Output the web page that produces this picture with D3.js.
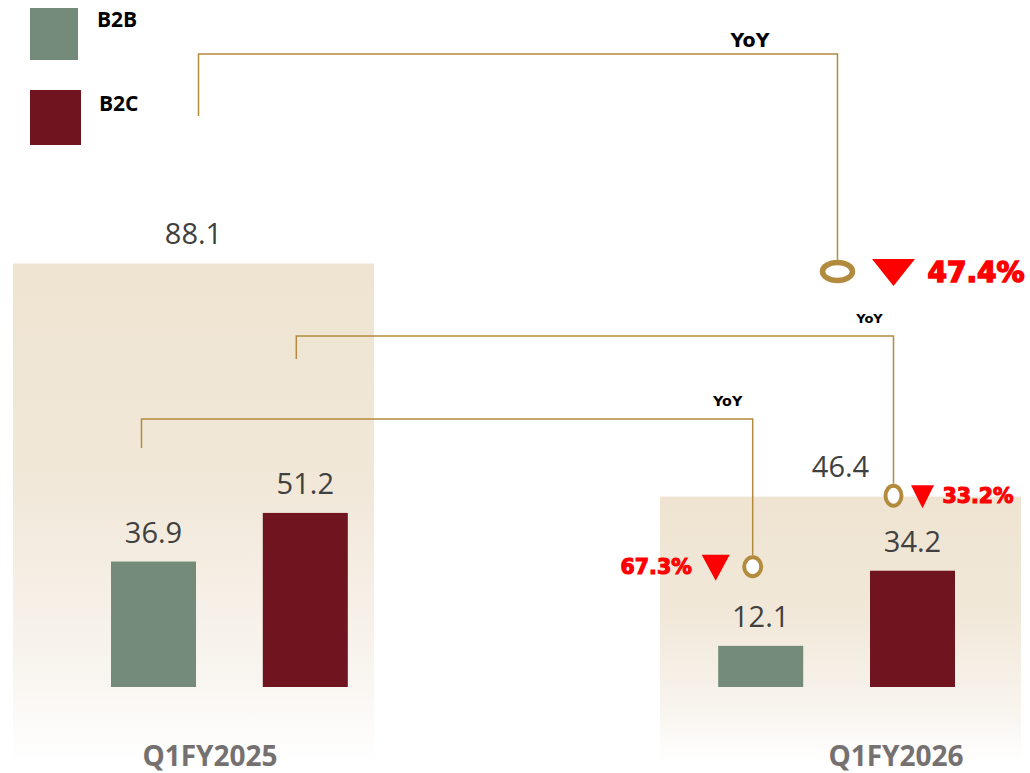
<!DOCTYPE html>
<html>
<head>
<meta charset="utf-8">
<title>B2B / B2C Q1FY2025 vs Q1FY2026</title>
<script src="https://cdn.jsdelivr.net/npm/d3@7"></script>
<style>
  body { margin: 0; background: #fff; }
  svg { display: block; }
</style>
</head>
<body>
<svg id="svg"></svg>
<script>
// data
var categories = ["Q1FY2025", "Q1FY2026"];
var series = ["B2B", "B2C"];
var b2bValues = [36.9, 12.1];
var b2cValues = [51.2, 34.2];
var totalValues = [88.1, 46.4];
var yoyLabels = ["47.4%", "33.2%", "67.3%"];   // total, B2C, B2B

var width = 1030, height = 773;
var colors = { B2B: "#748b79", B2C: "#701520" };
var gold = "#b38b3e", red = "#ff0000";

var svg = d3.select("#svg").attr("width", width).attr("height", height);

// gradient for the total panels
var grad = svg.append("defs").append("linearGradient")
    .attr("id", "panelGrad").attr("x1", 0).attr("y1", 0).attr("x2", 0).attr("y2", 1);
grad.append("stop").attr("offset", "0%").attr("stop-color", "#efe4d1");
grad.append("stop").attr("offset", "45%").attr("stop-color", "#f1e8d9");
grad.append("stop").attr("offset", "80%").attr("stop-color", "#f8f4ee");
grad.append("stop").attr("offset", "100%").attr("stop-color", "#ffffff");

// scales
var xPanel = d3.scaleBand().domain(categories).range([13, 1021]).paddingInner(0.442);
var yPanel = d3.scaleLinear().domain([0, 100]).range([756, 197]);
var xGroup = d3.scaleBand().domain(categories).range([111, 955]).paddingInner(0.61);
var xSeries = d3.scaleBand().domain(series).range([0, xGroup.bandwidth()]).paddingInner(0.44);
var yBar = d3.scaleLinear().domain([0, 100]).range([687, 347]);
var xLabel = d3.scalePoint().domain(categories).range([210, 896]);

var totals = categories.map(function(c, i) { return { cat: c, value: totalValues[i] }; });
var bars = [];
categories.forEach(function(c, i) {
    bars.push({ cat: c, key: "B2B", value: b2bValues[i] });
    bars.push({ cat: c, key: "B2C", value: b2cValues[i] });
});
function barX(d) { return xGroup(d.cat) + xSeries(d.key); }
function barCx(d) { return barX(d) + xSeries.bandwidth() / 2; }

// panels
svg.selectAll(".panel").data(totals).enter().append("rect")
    .attr("class", "panel")
    .attr("x", function(d) { return xPanel(d.cat); })
    .attr("y", function(d) { return yPanel(d.value); })
    .attr("width", xPanel.bandwidth())
    .attr("height", function(d) { return 762 - yPanel(d.value); })
    .attr("fill", "url(#panelGrad)");

svg.selectAll(".total").data(totals).enter().append("text")
    .attr("x", function(d) { return xPanel(d.cat) + xPanel.bandwidth() / 2; })
    .attr("y", function(d) { return yPanel(d.value) - 20; })
    .attr("text-anchor", "middle")
    .style("font-family", "'Open Sans', sans-serif")
    .style("font-size", "29px")
    .style("fill", "#404040")
    .text(function(d) { return d.value.toFixed(1); });

// bars
svg.selectAll(".bar").data(bars).enter().append("rect")
    .attr("x", barX)
    .attr("y", function(d) { return yBar(d.value); })
    .attr("width", xSeries.bandwidth())
    .attr("height", function(d) { return yBar(0) - yBar(d.value); })
    .attr("fill", function(d) { return colors[d.key]; });

svg.selectAll(".val").data(bars).enter().append("text")
    .attr("x", barCx)
    .attr("y", function(d) { return yBar(d.value) - 19; })
    .attr("text-anchor", "middle")
    .style("font-family", "'Open Sans', sans-serif")
    .style("font-size", "29px")
    .style("fill", "#404040")
    .text(function(d) { return d.value.toFixed(1); });

// category labels
svg.selectAll(".cat").data(categories).enter().append("text")
    .attr("x", function(d) { return xLabel(d); })
    .attr("y", 766)
    .attr("text-anchor", "middle")
    .style("font-family", "'Open Sans', sans-serif")
    .style("font-weight", "bold")
    .style("font-size", "28px")
    .style("fill", "#767171")
    .text(function(d) { return d; });

// legend
var legend = svg.selectAll(".leg").data(series).enter().append("g");
legend.append("rect")
    .attr("x", 30)
    .attr("y", function(d, i) { return i === 0 ? 8 : 90; })
    .attr("width", function(d, i) { return i === 0 ? 48 : 51; })
    .attr("height", function(d, i) { return i === 0 ? 52 : 55; })
    .attr("fill", function(d) { return colors[d]; });
legend.append("text")
    .attr("x", function(d, i) { return i === 0 ? 97 : 99; })
    .attr("y", function(d, i) { return i === 0 ? 27 : 111; })
    .style("font-family", "'Open Sans', sans-serif")
    .style("font-weight", "bold")
    .style("font-size", "21px")
    .style("fill", "#000")
    .text(function(d) { return d; });

// YoY connectors
var b25 = bars[0], c25 = bars[1], b26 = bars[2], c26 = bars[3];
var connectors = [
    { x0: xPanel(categories[0]) + xPanel.bandwidth() / 2 + 5, y0: 116, top: 54,
      x1: xPanel(categories[1]) + xPanel.bandwidth() / 2 - 3, ring: 271.5,
      rx: 15, ry: 9, sw: 5.5, yoySize: 19, yoyDx: -87.5, yoyDy: -7.3,
      label: yoyLabels[0], side: "right",
      tri: [43, 27], triGap: 56, txtGap: 90, txtSize: 28 },
    { x0: barCx(c25) - 9, y0: 359, top: 336,
      x1: barCx(c26) - 19, ring: 495.7,
      rx: 8, ry: 10, sw: 4, yoySize: 13, yoyDx: -24, yoyDy: -13,
      label: yoyLabels[1], side: "right",
      tri: [23, 23], triGap: 29, txtGap: 49, txtSize: 20.5 },
    { x0: barCx(b25) - 12, y0: 448, top: 419,
      x1: barCx(b26) - 8, ring: 566.7,
      rx: 8.5, ry: 9.5, sw: 4, yoySize: 14.3, yoyDx: -25, yoyDy: -13,
      label: yoyLabels[2], side: "left",
      tri: [28, 26], triGap: 37, txtGap: 61, txtSize: 20.5 }
];

connectors.forEach(function(c) {
    var ringTop = c.ring - c.ry - c.sw / 2;
    svg.append("path")
        .attr("d", "M" + c.x0 + "," + c.y0 + "V" + c.top + "H" + c.x1 + "V" + ringTop)
        .attr("fill", "none")
        .attr("stroke", gold)
        .attr("stroke-width", 1.5);
    svg.append("ellipse")
        .attr("cx", c.x1).attr("cy", c.ring)
        .attr("rx", c.rx).attr("ry", c.ry)
        .attr("fill", "#fff")
        .attr("stroke", gold)
        .attr("stroke-width", c.sw);
    svg.append("text")
        .attr("x", c.x1 + c.yoyDx)
        .attr("y", c.top + c.yoyDy)
        .attr("text-anchor", "middle")
        .style("font-family", "'DejaVu Sans', sans-serif")
        .style("font-weight", "bold")
        .style("font-size", c.yoySize + "px")
        .style("fill", "#000")
        .text("YoY");

    var dir = c.side === "right" ? 1 : -1;
    var tcx = c.x1 + dir * c.triGap;
    var tw = c.tri[0], th = c.tri[1];
    var ty = c.ring - th / 2 + 1;
    svg.append("path")
        .attr("d", "M" + (tcx - tw / 2) + "," + ty + "L" + (tcx + tw / 2) + "," + ty +
                   "L" + tcx + "," + (ty + th) + "Z")
        .attr("fill", red);
    svg.append("text")
        .attr("x", c.x1 + dir * c.txtGap)
        .attr("y", c.ring + c.txtSize * 0.36)
        .attr("text-anchor", c.side === "right" ? "start" : "end")
        .style("font-family", "'DejaVu Sans', sans-serif")
        .style("font-weight", "bold")
        .style("font-size", c.txtSize + "px")
        .style("fill", red)
        .style("stroke", red)
        .style("stroke-width", c.txtSize / 18)
        .text(c.label);
});
</script>
</body>
</html>
